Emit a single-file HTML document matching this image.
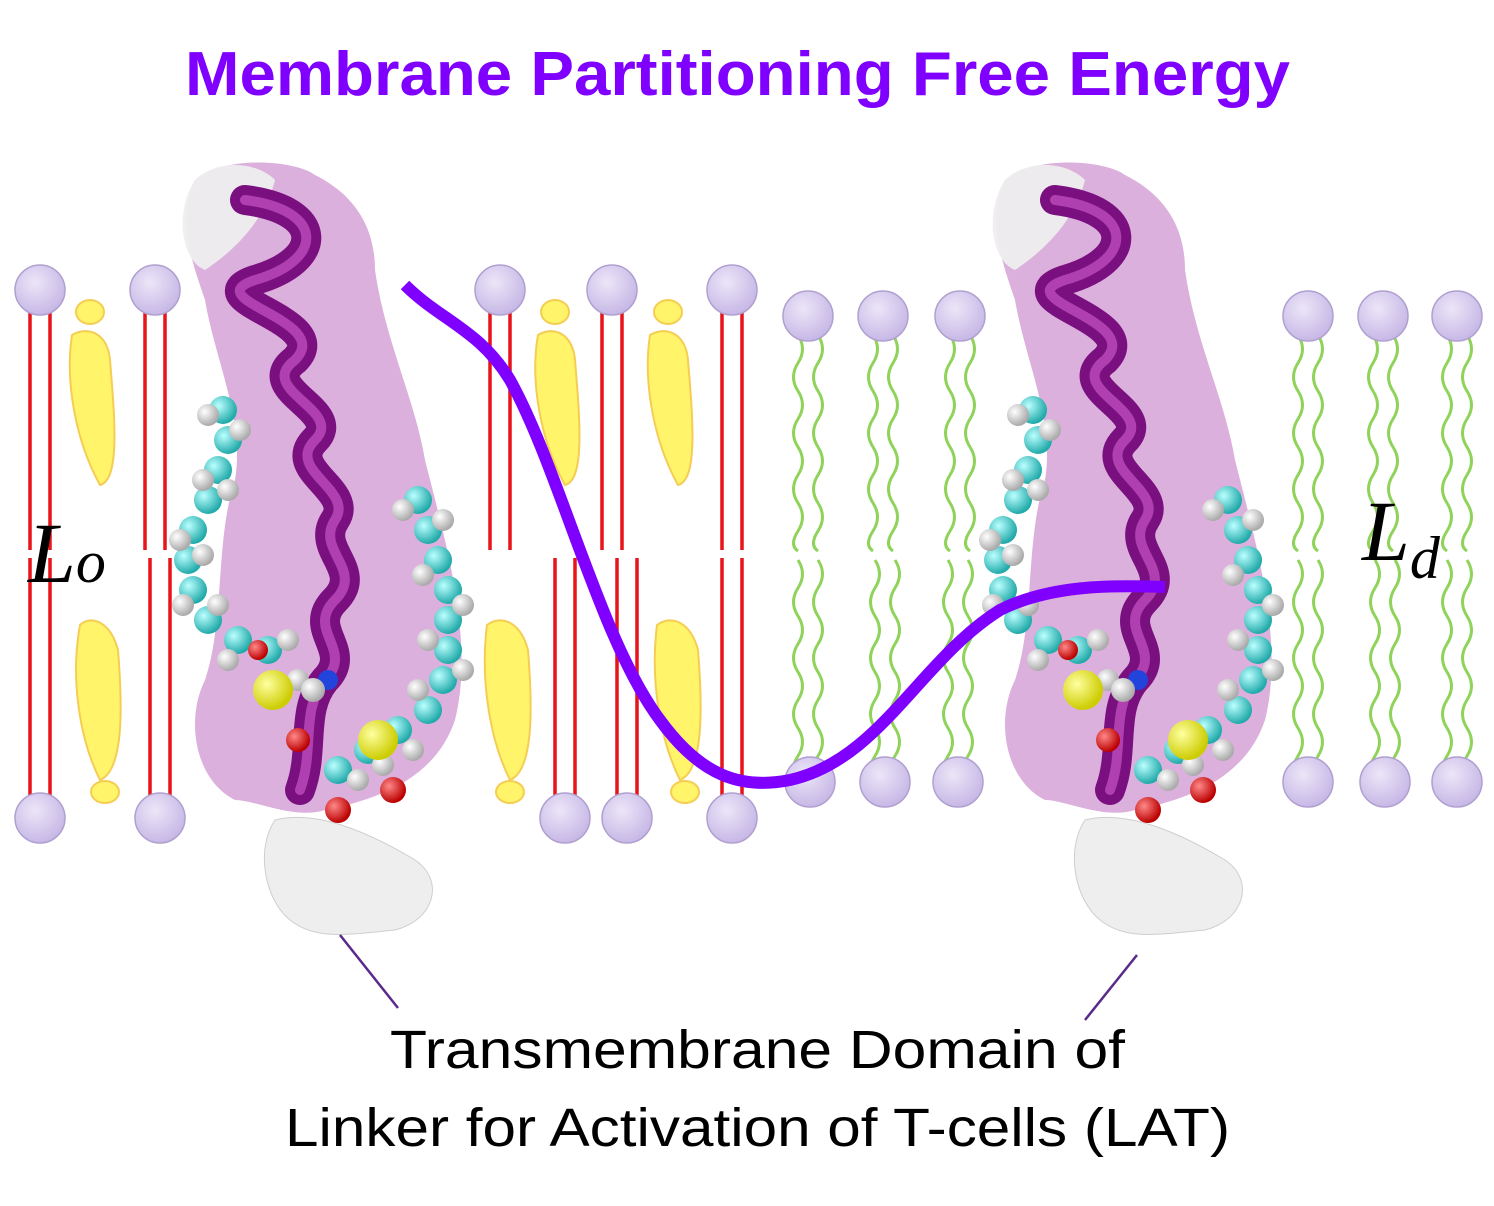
<!DOCTYPE html>
<html><head><meta charset="utf-8"><style>
html,body{margin:0;padding:0;background:#fff;width:1494px;height:1206px;overflow:hidden}
svg{display:block}
</style></head><body>
<svg width="1494" height="1206" viewBox="0 0 1494 1206" xmlns="http://www.w3.org/2000/svg">
<defs>
<radialGradient id="head" cx="40%" cy="35%" r="65%"><stop offset="0" stop-color="#ece6f8"/><stop offset="1" stop-color="#c7b8e6"/></radialGradient>
<path id="wT" d="M0,0 q9,14 0,28 t0,28 t0,28 t0,28 t0,28 t0,28 t0,28 t0,20" fill="none" stroke="#8fd35a" stroke-width="3"/>
<radialGradient id="cy" cx="35%" cy="35%" r="65%"><stop offset="0" stop-color="#bff"/><stop offset="1" stop-color="#2aa"/></radialGradient>
<radialGradient id="wh" cx="35%" cy="35%" r="65%"><stop offset="0" stop-color="#fff"/><stop offset="1" stop-color="#aaa"/></radialGradient>
<radialGradient id="ye" cx="35%" cy="35%" r="65%"><stop offset="0" stop-color="#ffffa0"/><stop offset="1" stop-color="#cc0"/></radialGradient>
<radialGradient id="re" cx="35%" cy="35%" r="65%"><stop offset="0" stop-color="#f88"/><stop offset="1" stop-color="#b00"/></radialGradient>
<g id="prot">
  <path d="M20,20 C50,-5 120,0 140,15 C190,40 200,80 200,110 C210,180 240,240 250,300 C270,380 300,480 280,560 C260,620 200,640 150,650 C120,660 80,640 60,640 C20,620 10,560 30,520 C50,460 40,380 60,320 C70,260 40,200 30,140 C20,110 0,60 20,20Z" fill="#c070c0" opacity="0.55"/>
  <path d="M20,20 C40,0 80,0 100,20 C90,60 60,90 30,110 C5,100 0,50 20,20Z" fill="#eee" opacity="0.95"/>
  <path d="M100,660 C140,650 190,670 240,700 C270,720 260,760 220,770 C170,775 140,780 115,760 C90,740 80,690 100,660Z" fill="#eee" stroke="#ccc" opacity="0.95"/>
  <path d="M70,40 C150,50 150,100 80,120 C20,140 160,160 120,200 C80,230 170,250 140,280 C110,310 180,330 160,360 C140,390 190,410 160,440 C130,470 180,490 150,520 C125,550 140,590 125,630" fill="none" stroke="#7a1080" stroke-width="30" stroke-linecap="round"/>
  <path d="M70,40 C150,50 150,100 80,120 C20,140 160,160 120,200 C80,230 170,250 140,280 C110,310 180,330 160,360 C140,390 190,410 160,440 C130,470 180,490 150,520 C125,550 140,590 125,630" fill="none" stroke="#b040b0" stroke-width="10" stroke-linecap="round"/>
</g>
<g id="anch">
  <g fill="url(#cy)">
    <circle cx="45" cy="250" r="14"/><circle cx="50" cy="280" r="14"/><circle cx="40" cy="310" r="14"/><circle cx="30" cy="340" r="14"/><circle cx="15" cy="370" r="14"/><circle cx="10" cy="400" r="14"/><circle cx="15" cy="430" r="14"/><circle cx="30" cy="460" r="14"/><circle cx="60" cy="480" r="14"/><circle cx="90" cy="490" r="14"/>
    <circle cx="240" cy="340" r="14"/><circle cx="250" cy="370" r="14"/><circle cx="260" cy="400" r="14"/><circle cx="270" cy="430" r="14"/><circle cx="270" cy="460" r="14"/><circle cx="270" cy="490" r="14"/><circle cx="265" cy="520" r="14"/><circle cx="250" cy="550" r="14"/><circle cx="220" cy="570" r="14"/><circle cx="190" cy="590" r="14"/><circle cx="160" cy="610" r="14"/>
  </g>
  <g fill="url(#wh)">
    <circle cx="30" cy="255" r="11"/><circle cx="62" cy="270" r="11"/><circle cx="25" cy="320" r="11"/><circle cx="50" cy="330" r="11"/><circle cx="2" cy="380" r="11"/><circle cx="25" cy="395" r="11"/><circle cx="5" cy="445" r="11"/><circle cx="40" cy="445" r="11"/><circle cx="50" cy="500" r="11"/><circle cx="110" cy="480" r="11"/><circle cx="120" cy="520" r="11"/>
    <circle cx="225" cy="350" r="11"/><circle cx="265" cy="360" r="11"/><circle cx="245" cy="415" r="11"/><circle cx="285" cy="445" r="11"/><circle cx="250" cy="480" r="11"/><circle cx="285" cy="510" r="11"/><circle cx="240" cy="530" r="11"/><circle cx="235" cy="590" r="11"/><circle cx="205" cy="605" r="11"/><circle cx="180" cy="620" r="11"/>
  </g>
  <circle cx="95" cy="530" r="20" fill="url(#ye)"/><circle cx="200" cy="580" r="20" fill="url(#ye)"/>
  <circle cx="80" cy="490" r="10" fill="url(#re)"/><circle cx="120" cy="580" r="12" fill="url(#re)"/><circle cx="160" cy="650" r="13" fill="url(#re)"/><circle cx="215" cy="630" r="13" fill="url(#re)"/>
  <circle cx="150" cy="520" r="10" fill="#2244dd"/>
  <circle cx="135" cy="530" r="12" fill="url(#wh)"/>
</g>
</defs>

<text x="185" y="95" textLength="1105" lengthAdjust="spacingAndGlyphs" font-family="Liberation Sans, sans-serif" font-weight="bold" font-size="62" fill="#8000ff">Membrane Partitioning Free Energy</text>

<g stroke="#e8141a" stroke-width="3.5">
  <line x1="30" y1="305" x2="30" y2="550"/><line x1="50" y1="305" x2="50" y2="550"/>
  <line x1="145" y1="305" x2="145" y2="550"/><line x1="165" y1="305" x2="165" y2="550"/>
  <line x1="490" y1="305" x2="490" y2="550"/><line x1="510" y1="305" x2="510" y2="550"/>
  <line x1="602" y1="305" x2="602" y2="550"/><line x1="622" y1="305" x2="622" y2="550"/>
  <line x1="722" y1="305" x2="722" y2="550"/><line x1="742" y1="305" x2="742" y2="550"/>
  <line x1="30" y1="558" x2="30" y2="805"/><line x1="50" y1="558" x2="50" y2="805"/>
  <line x1="150" y1="558" x2="150" y2="805"/><line x1="170" y1="558" x2="170" y2="805"/>
  <line x1="555" y1="558" x2="555" y2="805"/><line x1="575" y1="558" x2="575" y2="805"/>
  <line x1="617" y1="558" x2="617" y2="805"/><line x1="637" y1="558" x2="637" y2="805"/>
  <line x1="722" y1="558" x2="722" y2="805"/><line x1="742" y1="558" x2="742" y2="805"/>
</g>
<g fill="#fff35a" stroke="#f5c842" stroke-width="2" opacity="0.9">
  <ellipse cx="90" cy="312" rx="14" ry="12"/><path d="M72,335 C65,380 75,440 100,485 C120,480 115,420 110,360 C108,335 90,325 72,335Z"/>
  <ellipse cx="555" cy="312" rx="14" ry="12"/><path d="M538,335 C530,380 540,440 565,485 C585,480 580,420 575,360 C573,335 555,325 538,335Z"/>
  <ellipse cx="668" cy="312" rx="14" ry="12"/><path d="M650,335 C643,380 653,440 678,485 C698,480 693,420 688,360 C686,335 668,325 650,335Z"/>
  <path d="M80,625 C70,680 80,740 100,780 C125,770 122,700 118,650 C110,620 90,615 80,625Z"/><ellipse cx="105" cy="792" rx="14" ry="11"/>
  <path d="M487,625 C480,680 490,740 510,780 C535,770 532,700 528,650 C520,620 500,615 487,625Z"/><ellipse cx="510" cy="792" rx="14" ry="11"/>
  <path d="M657,625 C650,680 660,740 680,780 C705,770 702,700 698,650 C690,620 670,615 657,625Z"/><ellipse cx="685" cy="792" rx="14" ry="11"/>
</g>
<g>
  <use href="#wT" x="798" y="335"/><use href="#wT" x="818" y="335"/>
  <use href="#wT" x="873" y="335"/><use href="#wT" x="893" y="335"/>
  <use href="#wT" x="950" y="335"/><use href="#wT" x="970" y="335"/>
  <use href="#wT" x="1298" y="335"/><use href="#wT" x="1318" y="335"/>
  <use href="#wT" x="1373" y="335"/><use href="#wT" x="1393" y="335"/>
  <use href="#wT" x="1447" y="335"/><use href="#wT" x="1467" y="335"/>
  <use href="#wT" x="798" y="560"/><use href="#wT" x="818" y="560"/>
  <use href="#wT" x="875" y="560"/><use href="#wT" x="895" y="560"/>
  <use href="#wT" x="948" y="560"/><use href="#wT" x="968" y="560"/>
  <use href="#wT" x="1298" y="560"/><use href="#wT" x="1318" y="560"/>
  <use href="#wT" x="1375" y="560"/><use href="#wT" x="1395" y="560"/>
  <use href="#wT" x="1447" y="560"/><use href="#wT" x="1467" y="560"/>
</g>
<g fill="url(#head)" stroke="#b0a0d0" stroke-width="1.5">
  <circle cx="40" cy="290" r="25"/><circle cx="155" cy="290" r="25"/><circle cx="500" cy="290" r="25"/><circle cx="612" cy="290" r="25"/><circle cx="732" cy="290" r="25"/>
  <circle cx="40" cy="818" r="25"/><circle cx="160" cy="818" r="25"/><circle cx="565" cy="818" r="25"/><circle cx="627" cy="818" r="25"/><circle cx="732" cy="818" r="25"/>
  <circle cx="808" cy="316" r="25"/><circle cx="883" cy="316" r="25"/><circle cx="960" cy="316" r="25"/><circle cx="1308" cy="316" r="25"/><circle cx="1383" cy="316" r="25"/><circle cx="1457" cy="316" r="25"/>
  <circle cx="810" cy="782" r="25"/><circle cx="885" cy="782" r="25"/><circle cx="958" cy="782" r="25"/><circle cx="1308" cy="782" r="25"/><circle cx="1385" cy="782" r="25"/><circle cx="1457" cy="782" r="25"/>
</g>
<use href="#prot" x="175" y="160"/>
<use href="#anch" x="178" y="160"/>
<use href="#prot" x="985" y="160"/>
<use href="#anch" x="988" y="160"/>

<path d="M405,285 C440,320 480,330 510,380 C560,470 600,640 660,720 C700,775 740,790 790,780 C880,760 920,660 1000,610 C1050,585 1110,585 1165,587" fill="none" stroke="#7f00ff" stroke-width="12"/>

<text x="28" y="582" font-family="Liberation Serif, serif" font-style="italic" font-size="86" fill="#000">L<tspan font-size="60">o</tspan></text>
<text x="1362" y="560" font-family="Liberation Serif, serif" font-style="italic" font-size="86" fill="#000">L<tspan font-size="60" dy="18">d</tspan></text>

<g stroke="#5a2a8a" stroke-width="2.5">
  <line x1="340" y1="935" x2="398" y2="1008"/>
  <line x1="1137" y1="955" x2="1085" y2="1020"/>
</g>
<g font-family="Liberation Sans, sans-serif" font-size="54" fill="#000">
  <text x="390" y="1068" textLength="735" lengthAdjust="spacingAndGlyphs">Transmembrane Domain of</text>
  <text x="285" y="1146" textLength="945" lengthAdjust="spacingAndGlyphs">Linker for Activation of T-cells (LAT)</text>
</g>
</svg>
</body></html>
